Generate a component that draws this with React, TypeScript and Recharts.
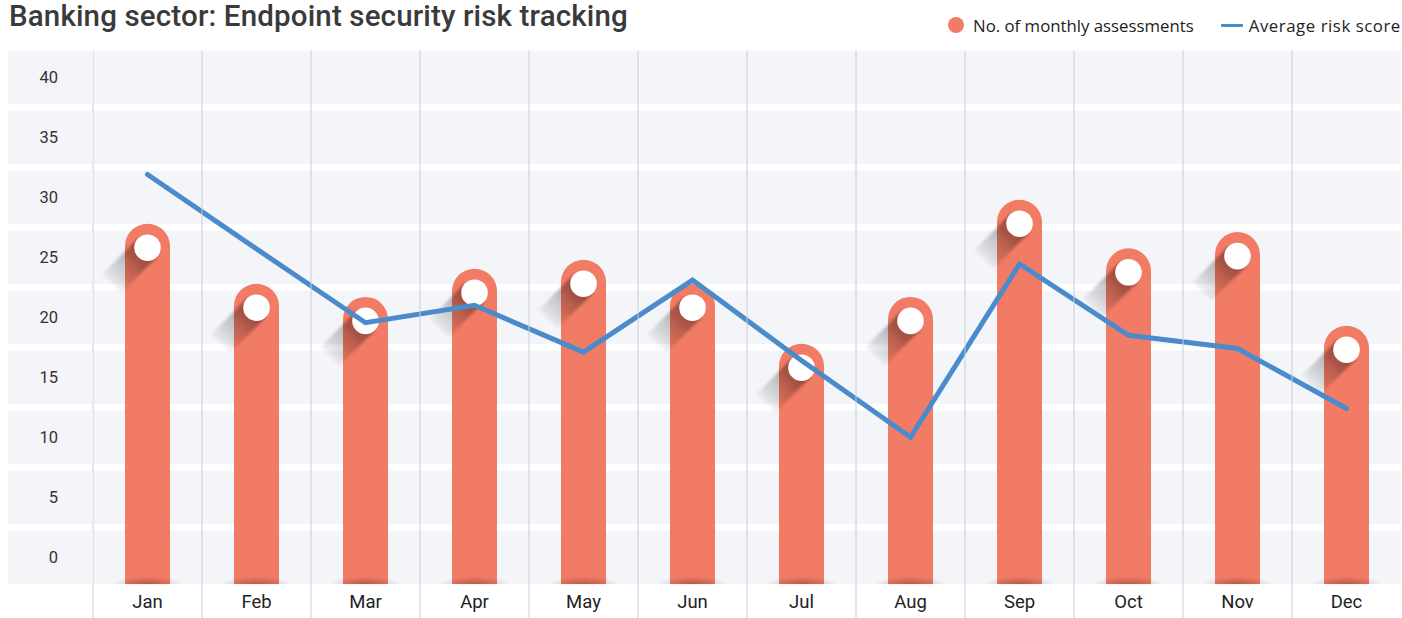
import React from 'react';
import { ComposedChart, Bar, Line, XAxis, YAxis, ReferenceArea } from 'recharts';

const months = ['Jan', 'Feb', 'Mar', 'Apr', 'May', 'Jun', 'Jul', 'Aug', 'Sep', 'Oct', 'Nov', 'Dec'];
const monthlyAssessments = [27.8, 22.8, 21.7, 24.05, 24.8, 22.8, 17.8, 21.7, 29.8, 25.75, 27.1, 19.3];
const avgRiskScore = [31.9, 25.7, 19.55, 21.0, 17.1, 23.1, 16.4, 10.0, 24.45, 18.5, 17.4, 12.4];
const yTicks = [0, 5, 10, 15, 20, 25, 30, 35, 40];

const Y_DOMAIN: [number, number] = [-2.25, 42.25];
const BAND_GAP = 0.28; // half the white gap between bands, in axis units

const W = 1402;
const H = 618;
const MARGIN = { top: 50.3, right: 1, bottom: 0, left: 8 };
const Y_AXIS_W = 85;
const X_AXIS_H = 33.7;
const PLOT_W = W - MARGIN.left - MARGIN.right - Y_AXIS_W;
const CAT_W = PLOT_W / months.length;
const BAND_PX = 53.3;

const BAR_COLOR = '#f27b65';
const LINE_COLOR = '#4a8bcb';
const BAND_FILL = '#f3f5f9';
const GRID_COLOR = '#c9ccd3';
const FONT = 'Roboto, sans-serif';

const chartData = months.map((m, i) => ({
  month: m,
  assessments: monthlyAssessments[i],
  risk: avgRiskScore[i],
}));

const bands = yTicks.map(t => ({
  y1: Math.max(t - 2.5 + BAND_GAP, Y_DOMAIN[0]),
  y2: Math.min(t + 2.5 - BAND_GAP, Y_DOMAIN[1]),
}));

const YTick = (props: any) => {
  const { x, y, payload } = props;
  return (
    <g>
      <rect x={MARGIN.left} y={y - BAND_PX / 2} width={Y_AXIS_W} height={BAND_PX} fill={BAND_FILL} />
      <text x={x} y={y} dy="0.35em" textAnchor="end" fill="#333" fontSize={16.5} fontFamily={FONT}>
        {payload.value}
      </text>
    </g>
  );
};

const XTick = (props: any) => {
  const { x, y, payload } = props;
  const lx = x - CAT_W / 2;
  return (
    <g>
      <line x1={lx} x2={lx} y1={MARGIN.top} y2={H} stroke={GRID_COLOR} strokeWidth={1} />
      <text x={x} y={y} dy={24} textAnchor="middle" fill="#222" fontSize={18.5} fontFamily={FONT}>
        {payload.value}
      </text>
    </g>
  );
};

const PillBar = (props: any) => {
  const { x, y, width, height } = props;
  if (width == null || height == null) return null;
  const r = width / 2;
  const cx = x + r;
  const bottom = y + height;
  const cy = y + r;
  const body = `M${x},${bottom} L${x},${cy} A${r},${r} 0 0 1 ${x + width},${cy} L${x + width},${bottom} Z`;
  const cr = 13.3;
  const ccy = cy + 1.5;
  const k = cr * Math.SQRT1_2;
  const L = 50 * Math.SQRT1_2;
  const shadow = `M${cx + k},${ccy + k} L${cx - k},${ccy - k} L${cx - k - L},${ccy - k + L} L${cx + k - L},${ccy + k + L} Z`;
  const rx = 36;
  const ry = 8;
  const glow = `M${cx - rx},${bottom} A${rx},${ry} 0 0 1 ${cx + rx},${bottom} Z`;
  return (
    <g>
      <path d={body} fill={BAR_COLOR} />
      <path d={glow} fill="url(#bottomGlow)" />
      <path d={shadow} fill="url(#longShadow)" filter="url(#softBlur)" />
      <circle cx={cx} cy={ccy} r={cr} fill="#fff" />
    </g>
  );
};

export default function App() {
  return (
    <div style={{ position: 'absolute', left: 0, top: 0, width: W, height: H, background: '#fff' }}>
      <ComposedChart width={W} height={H} data={chartData} margin={MARGIN}>
        <defs>
          <linearGradient id="longShadow" x1="1" y1="0" x2="0" y2="1">
            <stop offset="0.16" stopColor="#2a0c06" stopOpacity={0.5} />
            <stop offset="0.5" stopColor="#000" stopOpacity={0.22} />
            <stop offset="0.92" stopColor="#000" stopOpacity={0} />
          </linearGradient>
          <radialGradient
            id="bottomGlow"
            cx="0.5"
            cy="1"
            r="0.5"
            gradientTransform="translate(0.5 1) scale(1 2) translate(-0.5 -1)"
          >
            <stop offset="0" stopColor="#000" stopOpacity={0.26} />
            <stop offset="1" stopColor="#000" stopOpacity={0} />
          </radialGradient>
          <filter id="softBlur" x="-30%" y="-30%" width="160%" height="160%">
            <feGaussianBlur stdDeviation="1.6" />
          </filter>
        </defs>
        {bands.map((b, i) => (
          <ReferenceArea key={i} y1={b.y1} y2={b.y2} fill={BAND_FILL} fillOpacity={1} stroke="none" ifOverflow="hidden" />
        ))}
        <XAxis
          dataKey="month"
          height={X_AXIS_H}
          axisLine={false}
          tickLine={false}
          tickSize={0}
          tickMargin={0}
          interval={0}
          tick={<XTick />}
        />
        <YAxis
          type="number"
          domain={Y_DOMAIN}
          ticks={yTicks}
          width={Y_AXIS_W}
          axisLine={false}
          tickLine={false}
          tickSize={0}
          tickMargin={35}
          allowDataOverflow
          tick={<YTick />}
        />
        <Bar
          dataKey={(d: any) => [Y_DOMAIN[0], d.assessments]}
          barSize={45}
          fill={BAR_COLOR}
          shape={PillBar}
          isAnimationActive={false}
        />
        <Line
          dataKey="risk"
          type="linear"
          stroke={LINE_COLOR}
          strokeWidth={5}
          strokeLinecap="round"
          dot={false}
          activeDot={false}
          isAnimationActive={false}
        />
      </ComposedChart>
      <div
        style={{
          position: 'absolute',
          left: 9,
          top: 0,
          fontFamily: FONT,
          fontWeight: 500,
          fontSize: 29.5,
          lineHeight: '32px',
          letterSpacing: 0.15,
          color: '#3a3a3a',
          whiteSpace: 'nowrap',
        }}
      >
        Banking sector: Endpoint security risk tracking
      </div>
      <div
        style={{
          position: 'absolute',
          left: 948,
          top: 13,
          height: 24,
          display: 'flex',
          alignItems: 'center',
          fontFamily: '"Open Sans", sans-serif',
          fontSize: 16.8,
          color: '#222',
          whiteSpace: 'nowrap',
        }}
      >
        <span style={{ width: 16, height: 16, borderRadius: 8, background: BAR_COLOR, display: 'inline-block' }} />
        <span style={{ marginLeft: 9 }}>No. of monthly assessments</span>
        <span style={{ marginLeft: 27, width: 22, height: 3, background: LINE_COLOR, display: 'inline-block' }} />
        <span style={{ marginLeft: 6, letterSpacing: 0.55 }}>Average risk score</span>
      </div>
    </div>
  );
}
